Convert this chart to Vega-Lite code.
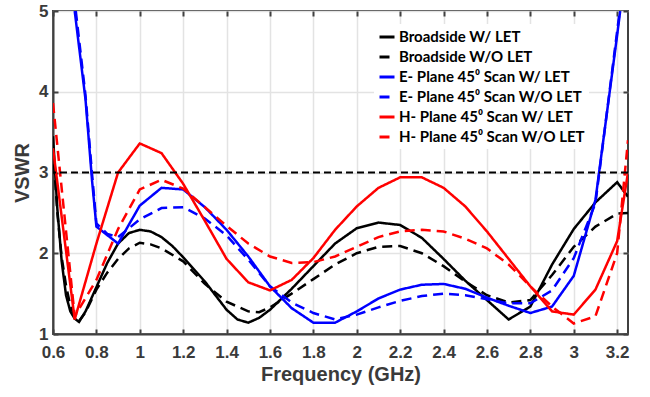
{
  "$schema": "https://vega.github.io/schema/vega-lite/v6.json",
  "width": 575,
  "height": 323,
  "autosize": {"type": "none"},
  "padding": {"left": 53, "top": 11, "right": 22, "bottom": 63},
  "background": "white",
  "config": {"view": {"stroke": "#404040", "strokeWidth": 2}, "font": "Liberation Sans"},
  "resolve": {"axis": {"x": "independent", "y": "independent"}},
  "layer": [
    {
      "data": {"values": [
        {"s":"BW","f":0.6,"v":3.45},{"s":"BW","f":0.62,"v":2.55},{"s":"BW","f":0.64,"v":1.9},{"s":"BW","f":0.66,"v":1.48},{"s":"BW","f":0.68,"v":1.28},{"s":"BW","f":0.7,"v":1.19},{"s":"BW","f":0.72,"v":1.15},{"s":"BW","f":0.75,"v":1.28},{"s":"BW","f":0.8,"v":1.58},{"s":"BW","f":0.85,"v":1.88},{"s":"BW","f":0.9,"v":2.12},{"s":"BW","f":0.95,"v":2.25},{"s":"BW","f":1.0,"v":2.29},{"s":"BW","f":1.05,"v":2.27},{"s":"BW","f":1.1,"v":2.2},{"s":"BW","f":1.15,"v":2.09},{"s":"BW","f":1.2,"v":1.95},{"s":"BW","f":1.3,"v":1.65},{"s":"BW","f":1.4,"v":1.3},{"s":"BW","f":1.45,"v":1.18},{"s":"BW","f":1.5,"v":1.14},{"s":"BW","f":1.55,"v":1.2},{"s":"BW","f":1.6,"v":1.3},{"s":"BW","f":1.7,"v":1.56},{"s":"BW","f":1.8,"v":1.84},{"s":"BW","f":1.9,"v":2.12},{"s":"BW","f":2.0,"v":2.31},{"s":"BW","f":2.1,"v":2.38},{"s":"BW","f":2.2,"v":2.35},{"s":"BW","f":2.3,"v":2.19},{"s":"BW","f":2.4,"v":1.93},{"s":"BW","f":2.5,"v":1.66},{"s":"BW","f":2.6,"v":1.42},{"s":"BW","f":2.7,"v":1.18},{"s":"BW","f":2.8,"v":1.34},{"s":"BW","f":2.9,"v":1.86},{"s":"BW","f":3.0,"v":2.3},{"s":"BW","f":3.1,"v":2.63},{"s":"BW","f":3.2,"v":2.88},{"s":"BW","f":3.25,"v":2.7},
        {"s":"BWO","f":0.6,"v":3.3},{"s":"BWO","f":0.62,"v":2.5},{"s":"BWO","f":0.64,"v":1.95},{"s":"BWO","f":0.66,"v":1.6},{"s":"BWO","f":0.68,"v":1.35},{"s":"BWO","f":0.7,"v":1.22},{"s":"BWO","f":0.72,"v":1.16},{"s":"BWO","f":0.75,"v":1.27},{"s":"BWO","f":0.8,"v":1.55},{"s":"BWO","f":0.85,"v":1.76},{"s":"BWO","f":0.9,"v":1.93},{"s":"BWO","f":0.95,"v":2.06},{"s":"BWO","f":1.0,"v":2.13},{"s":"BWO","f":1.05,"v":2.11},{"s":"BWO","f":1.1,"v":2.06},{"s":"BWO","f":1.2,"v":1.9},{"s":"BWO","f":1.3,"v":1.62},{"s":"BWO","f":1.4,"v":1.4},{"s":"BWO","f":1.5,"v":1.28},{"s":"BWO","f":1.55,"v":1.27},{"s":"BWO","f":1.6,"v":1.33},{"s":"BWO","f":1.7,"v":1.5},{"s":"BWO","f":1.8,"v":1.68},{"s":"BWO","f":1.9,"v":1.86},{"s":"BWO","f":2.0,"v":2.0},{"s":"BWO","f":2.1,"v":2.08},{"s":"BWO","f":2.2,"v":2.09},{"s":"BWO","f":2.3,"v":2.0},{"s":"BWO","f":2.4,"v":1.84},{"s":"BWO","f":2.5,"v":1.65},{"s":"BWO","f":2.6,"v":1.48},{"s":"BWO","f":2.7,"v":1.39},{"s":"BWO","f":2.8,"v":1.42},{"s":"BWO","f":2.9,"v":1.73},{"s":"BWO","f":3.0,"v":2.08},{"s":"BWO","f":3.1,"v":2.33},{"s":"BWO","f":3.2,"v":2.49},{"s":"BWO","f":3.25,"v":2.5},
        {"s":"EW","f":0.7,"v":5.0},{"s":"EW","f":0.75,"v":3.9},{"s":"EW","f":0.78,"v":2.9},{"s":"EW","f":0.8,"v":2.33},{"s":"EW","f":0.9,"v":2.12},{"s":"EW","f":1.0,"v":2.59},{"s":"EW","f":1.1,"v":2.81},{"s":"EW","f":1.2,"v":2.79},{"s":"EW","f":1.3,"v":2.57},{"s":"EW","f":1.4,"v":2.29},{"s":"EW","f":1.5,"v":1.96},{"s":"EW","f":1.6,"v":1.59},{"s":"EW","f":1.7,"v":1.32},{"s":"EW","f":1.8,"v":1.14},{"s":"EW","f":1.9,"v":1.14},{"s":"EW","f":2.0,"v":1.28},{"s":"EW","f":2.1,"v":1.44},{"s":"EW","f":2.2,"v":1.55},{"s":"EW","f":2.3,"v":1.61},{"s":"EW","f":2.4,"v":1.62},{"s":"EW","f":2.5,"v":1.56},{"s":"EW","f":2.6,"v":1.45},{"s":"EW","f":2.7,"v":1.35},{"s":"EW","f":2.8,"v":1.26},{"s":"EW","f":2.9,"v":1.34},{"s":"EW","f":3.0,"v":1.72},{"s":"EW","f":3.1,"v":2.66},{"s":"EW","f":3.2,"v":4.7},{"s":"EW","f":3.214,"v":5.0},
        {"s":"EWO","f":0.705,"v":5.0},{"s":"EWO","f":0.75,"v":3.95},{"s":"EWO","f":0.78,"v":2.98},{"s":"EWO","f":0.8,"v":2.37},{"s":"EWO","f":0.85,"v":2.24},{"s":"EWO","f":0.9,"v":2.2},{"s":"EWO","f":1.0,"v":2.42},{"s":"EWO","f":1.1,"v":2.56},{"s":"EWO","f":1.2,"v":2.57},{"s":"EWO","f":1.3,"v":2.43},{"s":"EWO","f":1.4,"v":2.22},{"s":"EWO","f":1.5,"v":1.92},{"s":"EWO","f":1.6,"v":1.59},{"s":"EWO","f":1.7,"v":1.39},{"s":"EWO","f":1.8,"v":1.26},{"s":"EWO","f":1.9,"v":1.18},{"s":"EWO","f":2.0,"v":1.24},{"s":"EWO","f":2.1,"v":1.33},{"s":"EWO","f":2.2,"v":1.41},{"s":"EWO","f":2.3,"v":1.47},{"s":"EWO","f":2.4,"v":1.5},{"s":"EWO","f":2.5,"v":1.48},{"s":"EWO","f":2.6,"v":1.43},{"s":"EWO","f":2.7,"v":1.38},{"s":"EWO","f":2.8,"v":1.38},{"s":"EWO","f":2.9,"v":1.54},{"s":"EWO","f":3.0,"v":1.94},{"s":"EWO","f":3.1,"v":2.62},{"s":"EWO","f":3.2,"v":4.75},{"s":"EWO","f":3.212,"v":5.0},
        {"s":"HW","f":0.6,"v":3.3},{"s":"HW","f":0.7,"v":1.18},{"s":"HW","f":0.8,"v":2.12},{"s":"HW","f":0.9,"v":3.0},{"s":"HW","f":1.0,"v":3.36},{"s":"HW","f":1.1,"v":3.24},{"s":"HW","f":1.2,"v":2.86},{"s":"HW","f":1.3,"v":2.4},{"s":"HW","f":1.4,"v":1.93},{"s":"HW","f":1.5,"v":1.64},{"s":"HW","f":1.6,"v":1.54},{"s":"HW","f":1.7,"v":1.67},{"s":"HW","f":1.8,"v":1.94},{"s":"HW","f":1.9,"v":2.29},{"s":"HW","f":2.0,"v":2.58},{"s":"HW","f":2.1,"v":2.81},{"s":"HW","f":2.2,"v":2.94},{"s":"HW","f":2.3,"v":2.94},{"s":"HW","f":2.4,"v":2.81},{"s":"HW","f":2.5,"v":2.58},{"s":"HW","f":2.6,"v":2.27},{"s":"HW","f":2.7,"v":1.93},{"s":"HW","f":2.8,"v":1.59},{"s":"HW","f":2.9,"v":1.28},{"s":"HW","f":3.0,"v":1.24},{"s":"HW","f":3.1,"v":1.55},{"s":"HW","f":3.2,"v":2.15},{"s":"HW","f":3.25,"v":3.0},
        {"s":"HWO","f":0.6,"v":3.86},{"s":"HWO","f":0.7,"v":1.22},{"s":"HWO","f":0.8,"v":1.67},{"s":"HWO","f":0.9,"v":2.3},{"s":"HWO","f":1.0,"v":2.79},{"s":"HWO","f":1.1,"v":2.91},{"s":"HWO","f":1.2,"v":2.8},{"s":"HWO","f":1.3,"v":2.57},{"s":"HWO","f":1.4,"v":2.34},{"s":"HWO","f":1.5,"v":2.12},{"s":"HWO","f":1.6,"v":1.96},{"s":"HWO","f":1.7,"v":1.88},{"s":"HWO","f":1.8,"v":1.89},{"s":"HWO","f":1.9,"v":1.96},{"s":"HWO","f":2.0,"v":2.08},{"s":"HWO","f":2.1,"v":2.2},{"s":"HWO","f":2.2,"v":2.27},{"s":"HWO","f":2.3,"v":2.29},{"s":"HWO","f":2.4,"v":2.27},{"s":"HWO","f":2.5,"v":2.18},{"s":"HWO","f":2.6,"v":2.06},{"s":"HWO","f":2.7,"v":1.86},{"s":"HWO","f":2.8,"v":1.59},{"s":"HWO","f":2.9,"v":1.34},{"s":"HWO","f":3.0,"v":1.13},{"s":"HWO","f":3.1,"v":1.22},{"s":"HWO","f":3.2,"v":2.0},{"s":"HWO","f":3.25,"v":3.4}
      ]},
      "mark": {"type": "line", "strokeWidth": 2.5, "clip": true},
      "encoding": {
        "x": {"field": "f", "type": "quantitative",
          "scale": {"domain": [0.6, 3.25], "nice": false, "zero": false},
          "axis": {"values": [0.6,0.8,1,1.2,1.4,1.6,1.8,2,2.2,2.4,2.6,2.8,3,3.2],
            "labelExpr": "format(datum.value, '.1~f')",
            "title": "Frequency (GHz)", "titleFontSize": 20, "titleFontWeight": "bold", "titleColor": "#3a3a3a", "titlePadding": 4,
            "labelFontSize": 17, "labelFontWeight": "bold", "labelColor": "#3a3a3a", "labelPadding": 15, "labelFlush": false, "labelOverlap": false,
            "tickSize": -5, "tickColor": "#404040", "tickWidth": 2,
            "domainColor": "#404040", "domainWidth": 2,
            "grid": true, "gridColor": "#e3e3e3", "gridWidth": 1.5}},
        "y": {"field": "v", "type": "quantitative",
          "scale": {"domain": [1, 5], "nice": false, "zero": false},
          "axis": {"values": [1,2,3,4,5],
            "title": "VSWR", "titleFontSize": 20, "titleFontWeight": "bold", "titleColor": "#3a3a3a", "titlePadding": 6,
            "labelFontSize": 17, "labelFontWeight": "bold", "labelColor": "#3a3a3a", "labelPadding": 10, "labelFlush": false, "labelOverlap": false,
            "tickSize": -5, "tickColor": "#404040", "tickWidth": 2,
            "domainColor": "#404040", "domainWidth": 2,
            "grid": true, "gridColor": "#e3e3e3", "gridWidth": 1.5}},
        "color": {"field": "s", "type": "nominal",
          "scale": {"domain": ["BW","BWO","EW","EWO","HW","HWO"], "range": ["#000000","#000000","#0000ff","#0000ff","#ff0000","#ff0000"]},
          "legend": {"orient": "none", "legendX": 321, "legendY": 13, "title": null, "padding": 4, "fillColor": "white",
            "symbolType": "stroke", "symbolSize": 225, "symbolStrokeWidth": 3,
            "labelFont": "Lato", "labelFontWeight": "bold", "labelFontSize": 15, "labelColor": "black", "labelOffset": 3, "labelLimit": 400, "rowPadding": 3,
            "labelExpr": "{'BW':'Broadside W/ LET','BWO':'Broadside W/O LET','EW':'E- Plane 45⁰ Scan W/ LET','EWO':'E- Plane 45⁰ Scan W/O LET','HW':'H- Plane 45⁰ Scan W/ LET','HWO':'H- Plane 45⁰ Scan W/O LET'}[datum.label]"}},
        "strokeDash": {"field": "s", "type": "nominal",
          "scale": {"domain": ["BW","BWO","EW","EWO","HW","HWO"], "range": [[1,0],[10,6],[1,0],[10,6],[1,0],[10,6]]},
          "legend": {"orient": "none", "legendX": 321, "legendY": 13, "title": null, "padding": 4, "fillColor": "white",
            "symbolType": "stroke", "symbolSize": 225, "symbolStrokeWidth": 3,
            "labelFont": "Lato", "labelFontWeight": "bold", "labelFontSize": 15, "labelColor": "black", "labelOffset": 3, "labelLimit": 400, "rowPadding": 3,
            "labelExpr": "{'BW':'Broadside W/ LET','BWO':'Broadside W/O LET','EW':'E- Plane 45⁰ Scan W/ LET','EWO':'E- Plane 45⁰ Scan W/O LET','HW':'H- Plane 45⁰ Scan W/ LET','HWO':'H- Plane 45⁰ Scan W/O LET'}[datum.label]"}}
      }
    },
    {
      "data": {"values": [{"v": 3}]},
      "mark": {"type": "rule", "color": "black", "strokeWidth": 2, "strokeDash": [7, 4]},
      "encoding": {"y": {"field": "v", "type": "quantitative", "axis": null}}
    },
    {
      "data": {"values": [{"f": 0.6, "v": 1}]},
      "mark": {"type": "point", "opacity": 0},
      "encoding": {
        "x": {"field": "f", "type": "quantitative",
          "axis": {"orient": "top", "values": [0.6,0.8,1,1.2,1.4,1.6,1.8,2,2.2,2.4,2.6,2.8,3,3.2], "labels": false, "title": null, "grid": false, "domain": false,
            "tickSize": -5, "tickColor": "#404040", "tickWidth": 2}},
        "y": {"field": "v", "type": "quantitative",
          "axis": {"orient": "right", "values": [1,2,3,4,5], "labels": false, "title": null, "grid": false, "domain": false,
            "tickSize": -5, "tickColor": "#404040", "tickWidth": 2}}
      }
    }
  ]
}
